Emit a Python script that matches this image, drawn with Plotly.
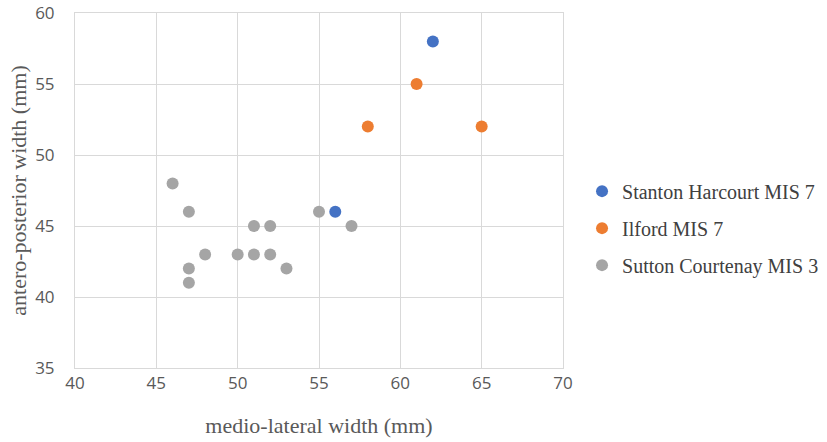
import plotly.graph_objects as go

stanton_x = [62, 56]
stanton_y = [58, 46]
ilford_x = [58, 61, 65]
ilford_y = [52, 55, 52]
sutton_x = [46, 47, 47, 47, 48, 50, 51, 51, 52, 52, 53, 55, 57]
sutton_y = [48, 46, 42, 41, 43, 43, 45, 43, 45, 43, 42, 46, 45]

names = ["Stanton Harcourt MIS 7", "Ilford MIS 7", "Sutton Courtenay MIS 3"]
colors = ["#4472C4", "#ED7D31", "#A5A5A5"]
x_ticks = [40, 45, 50, 55, 60, 65, 70]
y_ticks = [35, 40, 45, 50, 55, 60]

fig = go.Figure()
for i, (xs, ys) in enumerate([(stanton_x, stanton_y), (ilford_x, ilford_y), (sutton_x, sutton_y)]):
    fig.add_trace(go.Scatter(x=xs, y=ys, mode="markers", name=names[i],
                             legendgroup=f"g{i}",
                             marker=dict(color=colors[i], size=12, line=dict(width=0))))

grid = "#D9D9D9"
fig.update_layout(
    width=827, height=442,
    margin=dict(l=75, r=264, t=13, b=74, autoexpand=False),
    paper_bgcolor="white", plot_bgcolor="white",
    showlegend=True,
    legend=dict(x=1.039, xanchor="left", y=0.394, yanchor="middle",
                bgcolor="rgba(0,0,0,0)",
                font=dict(family="Liberation Serif", size=20, color="#404040"),
                tracegroupgap=8, traceorder="grouped", itemwidth=30),
    xaxis=dict(range=[40, 70], tickvals=x_ticks, showgrid=True, gridcolor=grid, gridwidth=1,
               zeroline=False, showline=True, linecolor=grid, mirror=True, automargin=False,
               ticks="", ticklabeloverflow="allow",
               tickfont=dict(family="Open Sans", size=17, color="#595959"),
               title=dict(text="medio-lateral width (mm)", standoff=24,
                          font=dict(family="Liberation Serif", size=22, color="#595959"))),
    yaxis=dict(range=[35, 60], tickvals=y_ticks, showgrid=True, gridcolor=grid, gridwidth=1,
               zeroline=False, showline=True, linecolor=grid, mirror=True, automargin=False,
               ticks="outside", ticklen=16, tickcolor="rgba(0,0,0,0)",
               ticklabeloverflow="allow",
               tickfont=dict(family="Open Sans", size=17, color="#595959"),
               title=dict(text="antero-posterior width (mm)", standoff=2,
                          font=dict(family="Liberation Serif", size=22, color="#595959"))),
)
fig.write_html("out.html", config={"displayModeBar": False},
               post_script="document.body.style.margin='0';")
